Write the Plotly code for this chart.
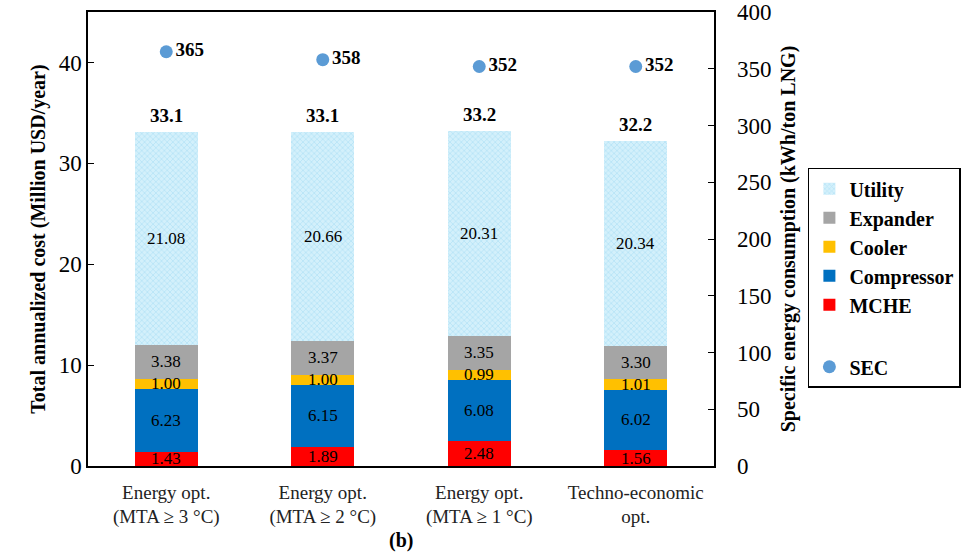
import plotly.graph_objects as go

categories = ["Energy opt.<br>(MTA ≥ 3 °C)", "Energy opt.<br>(MTA ≥ 2 °C)",
              "Energy opt.<br>(MTA ≥ 1 °C)", "Techno-economic<br>opt."]
mche = [1.43, 1.89, 2.48, 1.56]
compressor = [6.23, 6.15, 6.08, 6.02]
cooler = [1.00, 1.00, 0.99, 1.01]
expander = [3.38, 3.37, 3.35, 3.30]
utility = [21.08, 20.66, 20.31, 20.34]
totals = [33.1, 33.1, 33.2, 32.2]
sec = [365, 358, 352, 352]

SERIF = "Liberation Serif"

segments = [
    ("MCHE", mche, dict(color="#FF0000"), 5),
    ("Compressor", compressor, dict(color="#0070C0"), 4),
    ("Cooler", cooler, dict(color="#FFC000"), 3),
    ("Expander", expander, dict(color="#A5A5A5"), 2),
    ("Utility", utility, dict(color="#D3F0FB",
                              pattern=dict(shape="x", fgcolor="#9ED9F2",
                                           size=4, solidity=0.4)), 1),
]

fig = go.Figure()
for name, vals, marker, rank in segments:
    fig.add_trace(go.Bar(
        x=categories, y=vals, name=name, width=0.4,
        marker=dict(line=dict(width=0), **marker),
        legendgroup="cost", legendrank=rank,
    ))

# segment value labels, centred in each stacked block
base = [0.0] * len(categories)
for name, vals, marker, rank in segments:
    for i, v in enumerate(vals):
        fig.add_annotation(x=categories[i], y=base[i] + v / 2, text=f"{v:.2f}",
                           showarrow=False, yref="y",
                           font=dict(family=SERIF, size=17, color="#000"))
        base[i] += v

# total cost above each bar
for i, t in enumerate(totals):
    fig.add_annotation(x=categories[i], y=base[i], text=f"<b>{t:.1f}</b>",
                       showarrow=False, yanchor="bottom", yshift=4,
                       font=dict(family=SERIF, size=19, color="#000"))

fig.add_trace(go.Scatter(
    x=categories, y=sec, name="SEC", yaxis="y2", mode="markers+text",
    marker=dict(color="#5B9BD5", size=13),
    text=[f"<b>{s}</b>" for s in sec], textposition="middle right",
    textfont=dict(family=SERIF, size=19, color="#000"),
    legendgroup="sec", legendrank=6,
))

fig.add_annotation(x=0.5, y=-0.163, xref="paper", yref="paper", text="<b>(b)</b>",
                   showarrow=False, yanchor="middle",
                   font=dict(family=SERIF, size=20, color="#000"))

fig.update_layout(
    width=963, height=557,
    margin=dict(l=88, r=249, t=12, b=91, autoexpand=False),
    paper_bgcolor="white", plot_bgcolor="white",
    barmode="stack", bargap=0.6,
    font=dict(family=SERIF, color="#000"),
    showlegend=True,
    legend=dict(x=1.150, y=0.657, xanchor="left", yanchor="top",
                bordercolor="#000", borderwidth=1.5, bgcolor="white",
                font=dict(family=SERIF, size=20, color="#000", weight="bold"),
                traceorder="grouped", tracegroupgap=33, itemwidth=30),
    xaxis=dict(showline=True, linecolor="#000", linewidth=1.5, mirror=True,
               ticks="", automargin=False, ticklabelstandoff=8,
               tickfont=dict(family=SERIF, size=19, color="#222")),
    yaxis=dict(range=[0, 45], tickvals=[0, 10, 20, 30, 40], automargin=False,
               showline=True, linecolor="#000", linewidth=1.5, mirror=True,
               ticks="inside", ticklen=6, tickcolor="#000", showgrid=False,
               zeroline=False,
               tickfont=dict(family=SERIF, size=23, color="#000"),
               title=dict(text="<b>Total annualized cost (Million USD/year)</b>",
                          font=dict(family=SERIF, size=20, color="#000"),
                          standoff=8)),
    yaxis2=dict(range=[0, 400], tickvals=[0, 50, 100, 150, 200, 250, 300, 350, 400],
                overlaying="y", side="right", showgrid=False, zeroline=False,
                automargin=False, ticklabelstandoff=22,
                ticks="inside", ticklen=6, tickcolor="#000",
                tickfont=dict(family=SERIF, size=23, color="#000"),
                title=dict(text="<b>Specific energy consumption (kWh/ton LNG)</b>",
                           font=dict(family=SERIF, size=20, color="#000"),
                           standoff=10)),
)

fig.write_html("out.html")
